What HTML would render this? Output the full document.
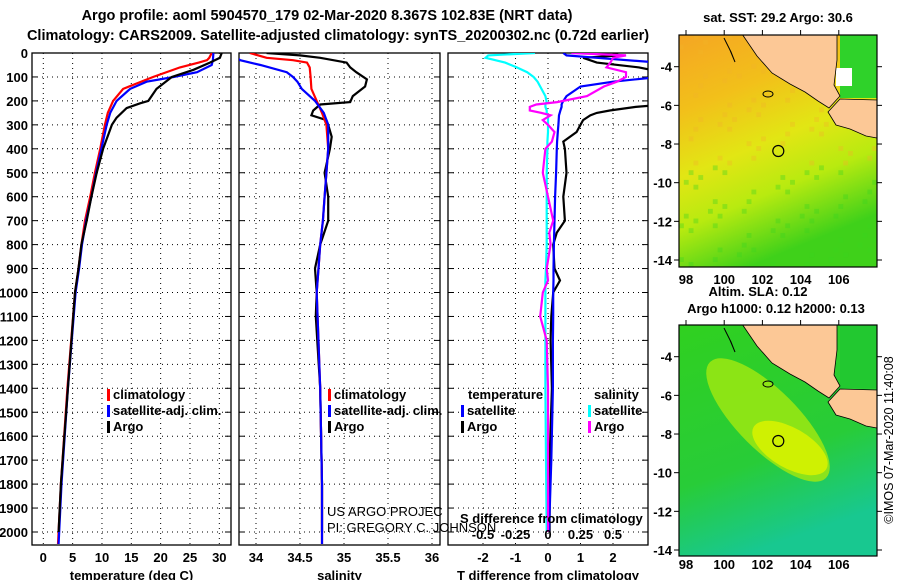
<!DOCTYPE html>
<html><head><meta charset="utf-8"><style>
body{margin:0;background:#fff;}
svg{display:block;font-family:"Liberation Sans",sans-serif;}
.t{font-weight:bold;font-size:13px;}
.tl{font-size:13px;}
</style></head><body>
<svg id="s" width="900" height="580" viewBox="0 0 900 580">
<text x="327" y="20" text-anchor="middle" class="t" style="font-size:14.5px">Argo profile: aoml 5904570_179 02-Mar-2020 8.367S 102.83E (NRT data)</text>
<text x="338" y="40" text-anchor="middle" class="t" style="font-size:14.5px">Climatology: CARS2009. Satellite-adjusted climatology: synTS_20200302.nc (0.72d earlier)</text>
<defs>
<clipPath id="c1"><rect x="32" y="53" width="199" height="492"/></clipPath>
<clipPath id="c2"><rect x="239" y="53" width="201" height="492"/></clipPath>
<clipPath id="c3"><rect x="448" y="53" width="200" height="492"/></clipPath>
<clipPath id="m1"><rect x="679" y="35" width="198" height="232"/></clipPath>
<clipPath id="m2"><rect x="679" y="325" width="198" height="231"/></clipPath>
<linearGradient id="sst" x1="0" y1="0" x2="0.35" y2="1">
<stop offset="0" stop-color="#f5a623"/><stop offset="0.3" stop-color="#f2c01a"/><stop offset="0.55" stop-color="#e2e614"/><stop offset="0.75" stop-color="#b8ea10"/><stop offset="1" stop-color="#3fd11a"/></linearGradient>
<linearGradient id="slabg" x1="0" y1="0" x2="0.3" y2="1"><stop offset="0" stop-color="#30d020"/><stop offset="0.65" stop-color="#28cc38"/><stop offset="1" stop-color="#18c890"/></linearGradient>
</defs>
<g id="panels"></g>
<g id="maps"></g>
<text transform="translate(893,440) rotate(-90)" text-anchor="middle" class="tl" style="font-size:12.5px">©IMOS 07-Mar-2020 11:40:08</text>
</svg>
<script>
const depthC = [0,20,30,40,60,100,150,200,250,300,400,500,600,700,800,900,1000,1400,1800,2050];
const tempClim = [28.7,28.3,27.9,26.5,23.3,18.7,13.6,11.9,11.0,10.5,9.7,8.8,8.0,7.1,6.5,6.0,5.4,4.1,3.0,2.5];
const depthS = [0,30,50,80,100,120,150,200,250,300,400,500,600,700,800,900,1000,1400,1800,2050];
const tempSat = [29.0,28.9,28.7,26.2,22.2,17.6,14.8,12.5,11.4,10.8,9.9,9.0,8.2,7.3,6.6,6.1,5.5,4.2,3.1,2.6];
const depthA = [0,20,40,70,100,150,200,210,230,270,300,400,500,600,700,800,900,1000,1400,1800,2000];
const tempArgo = [30.4,30.1,28.4,25.6,21.9,19.3,17.9,16.5,14.2,12.5,11.7,10.2,9.1,8.2,7.4,6.5,6.0,5.4,4.2,3.0,2.6];
const salClim = [33.93,34.12,34.42,34.58,34.61,34.62,34.63,34.69,34.75,34.80,34.82,34.80,34.78,34.76,34.73,34.71,34.69,34.73,34.75,34.75];
const salSat = [33.7,33.82,34.05,34.35,34.42,34.47,34.52,34.67,34.77,34.82,34.82,34.80,34.78,34.76,34.73,34.71,34.69,34.73,34.75,34.75];
const depthAS = [0,10,20,40,60,80,110,140,180,205,215,240,260,280,300,350,400,500,600,700,800,900,1000,1100,1400,1800,2000];
const salArgo = [34.12,34.5,34.73,35.03,35.07,35.14,35.26,35.24,35.10,35.07,34.73,34.65,34.63,34.80,34.82,34.86,34.84,34.78,34.82,34.82,34.73,34.67,34.69,34.68,34.73,34.75,34.75];
const depthD = [0,10,20,40,60,80,100,120,140,180,205,215,225,240,250,260,280,300,330,370,400,500,600,700,750,800,900,950,1000,1100,1200,1400,1700,2000];
const tDiffSat = [0.47,0.57,1.5,3.4,3.5,3.5,3.4,2.0,1.0,0.57,0.45,0.42,0.42,0.38,0.36,0.34,0.33,0.32,0.30,0.28,0.27,0.25,0.22,0.20,0.19,0.18,0.17,0.17,0.16,0.16,0.15,0.15,0.1,0.03];
const tDiffArgo = [2.0,2.2,1.08,1.5,2.8,3.5,3.6,3.6,3.6,3.6,3.6,3.6,2.7,1.9,1.5,1.3,1.08,1.0,0.88,0.47,0.52,0.57,0.47,0.52,0.27,0.16,0.2,0.37,0.16,0.1,0.08,0.12,0.05,0.05];
const sDiffSat = [-0.1,-0.46,-0.48,-0.33,-0.24,-0.16,-0.11,-0.08,-0.06,-0.02,-0.01,-0.02,-0.02,-0.01,-0.01,0,0,0,0,-0.005,-0.005,-0.01,-0.01,-0.01,-0.01,-0.01,-0.015,-0.02,-0.02,-0.02,-0.02,-0.02,-0.015,-0.01];
const sDiffArgo = [0.18,0.6,0.5,0.48,0.45,0.6,0.6,0.53,0.43,0.3,0.07,-0.09,-0.14,-0.14,-0.05,0.02,-0.04,0.0,0.05,0.03,-0.02,-0.04,0.0,0.04,0.01,0.02,-0.01,0.0,-0.04,-0.06,-0.01,0.0,0.0,0.0];
const depthTicks = [0,100,200,300,400,500,600,700,800,900,1000,1100,1200,1300,1400,1500,1600,1700,1800,1900,2000];
const tempTicks = [0,5,10,15,20,25,30];
const salTicks = [34,34.5,35,35.5,36];
const tdTicks = [-2,-1,0,1,2];
const sdTicks = [-0.5,-0.25,0,0.25,0.5];
const lonTicks = [98,100,102,104,106];
const latTicks = [-4,-6,-8,-10,-12,-14];

const NS='http://www.w3.org/2000/svg';
const yD = d => 53 + d*0.2395;
const xT = t => 43.3 + t*5.867;
const xS = s => 256 + (s-34)*88;
const xTD = v => 548 + v*32.5;
const xSD = v => 548 + v*130;
const P = document.getElementById('panels');
function mk(tag, attrs, parent){const e=document.createElementNS(NS,tag);for(const k in attrs)e.setAttribute(k,attrs[k]);(parent||P).appendChild(e);return e;}
function txt(x,y,s,anchor,cls,parent){const e=mk('text',{x:x,y:y,'text-anchor':anchor||'middle','class':cls||'t'},parent);e.textContent=s;return e;}

function panel(x0,w,clip,xs,ticks,tickFmt,title,name){
  const g=mk('g',{});
  
  
  ticks.forEach(t=>{const l=mk('line',{x1:xs(t),x2:xs(t),y1:53,y2:545,stroke:'#000','stroke-width':1,'stroke-dasharray':'1 4'},g);
    
    
    const tl=txt(xs(t),562,tickFmt(t),'middle','t',g);
    
    });
  depthTicks.forEach(d=>{const l=mk('line',{x1:x0,x2:x0+w,y1:yD(d),y2:yD(d),stroke:'#000','stroke-dasharray':'1 4'},g);
    
    
    mk('line',{x1:x0,x2:x0+6,y1:yD(d),y2:yD(d),stroke:'#000'},g);
    mk('line',{x1:x0+w-6,x2:x0+w,y1:yD(d),y2:yD(d),stroke:'#000'},g);});
  const r=mk('rect',{x:x0,y:53,width:w,height:492,fill:'none',stroke:'#000','stroke-width':1.3},g);
  
  
  const at=txt(x0+w/2,580,title,'middle','t',g);
  
  
  return g;
}
function line(depths,vals,xs,color,clip,name){
  const pts=depths.map((d,i)=>xs(vals[i]).toFixed(1)+','+yD(d).toFixed(1)).join(' ');
  const p=mk('polyline',{points:pts,fill:'none',stroke:color,'stroke-width':2.2,'clip-path':'url(#'+clip+')'});
  
  
  return p;
}
panel(32,199,'c1',xT,tempTicks,String,'temperature (deg C)','temperature');
panel(239,201,'c2',xS,salTicks,String,'salinity','salinity');
panel(448,200,'c3',xTD,tdTicks,String,'T difference from climatology','difference');
depthTicks.forEach(d=>{const e=txt(28,yD(d)+5,String(d),'end','t');
  
  });

line(depthC,tempClim,xT,'#f00','c1','temp-climatology-line');
line(depthS,tempSat,xT,'#00f','c1','temp-satellite-line');
line(depthA,tempArgo,xT,'#000','c1','temp-argo-line');
line(depthAS,salArgo,xS,'#000','c2','sal-argo-line');
line(depthC,salClim,xS,'#f00','c2','sal-climatology-line');
line(depthS,salSat,xS,'#00f','c2','sal-satellite-line');
line(depthD,tDiffArgo,xTD,'#000','c3','tdiff-argo-line');
line(depthD,tDiffSat,xTD,'#00f','c3','tdiff-satellite-line');
line(depthD,sDiffSat,xSD,'#0ff','c3','sdiff-satellite-line');
line(depthD,sDiffArgo,xSD,'#f0f','c3','sdiff-argo-line');

function legend(x,y,color,label,name){
  const r=mk('rect',{x:x,y:y-10,width:3,height:12,fill:color});
  
  
  const t=txt(x+6,y,label,'start','t');
  
  
}
legend(107,399,'#f00','climatology','legend-temp-climatology');
legend(107,415,'#00f','satellite-adj. clim.','legend-temp-satellite');
legend(107,431,'#000','Argo','legend-temp-argo');
legend(328,399,'#f00','climatology','legend-sal-climatology');
legend(328,415,'#00f','satellite-adj. clim.','legend-sal-satellite');
legend(328,431,'#000','Argo','legend-sal-argo');
{const t=txt(468,399,'temperature','start','t');
 const s=txt(594,399,'salinity','start','t');}
legend(461,415,'#00f','satellite','legend-tdiff-satellite');
legend(461,431,'#000','Argo','legend-tdiff-argo');
legend(588,415,'#0ff','satellite','legend-sdiff-satellite');
legend(588,431,'#f0f','Argo','legend-sdiff-argo');
{const a=txt(327,516,'US ARGO PROJEC','start','tl');
 const b=txt(327,532,'PI: GREGORY C. JOHNSON','start','tl');
 const c=txt(460,523,'S difference from climatology','start','t');
 sdTicks.forEach(v=>{const e=txt(xSD(v),539,String(v),'middle','t');});}

const M=document.getElementById('maps');
function map(off,bgFill,name){
  const g=mk('g',{},M);
  
  
  mk('rect',{x:679,y:35+off,width:198,height:232,fill:bgFill,'clip-path':'url(#'+(off?'m2':'m1')+')'},g);
  return g;
}
const lonX = l => 686 + (l-98)*19.1;
const latY = (la,off) => 66.7 + off + (-4-la)*19.33;
function mapDecor(g,off){
  const sum='742.7,35 837,35 837,60 834,85 840,96 829,108 818,101 805,92 790,84 772,73 757,56';
  const jav='840,99 877,100 877,138 866,136 850,129 836,125 828,112';
  const tr=s=>s.split(' ').map(p=>{const [a,b]=p.split(',');return a+','+(+b+off);}).join(' ');
  const s1=mk('polygon',{points:tr(sum),fill:'#fcc896',stroke:'#000','stroke-width':0.8},g);
  
  
  const j1=mk('polygon',{points:tr(jav),fill:'#fcc896',stroke:'#000','stroke-width':0.8},g);
  
  
  mk('polyline',{points:tr('724,38 730,50 735,62 731,52 725,40'),fill:'none',stroke:'#000','stroke-width':1},g);
  mk('ellipse',{cx:768,cy:94+off,rx:5,ry:3,fill:'none',stroke:'#000'},g);
  const c=mk('circle',{cx:778.3,cy:151+off,r:5.5,fill:'none',stroke:'#000','stroke-width':1.2},g);
  
  
  const f=mk('rect',{x:679,y:35+off,width:198,height:232-(off?1:0),fill:'none',stroke:'#000','stroke-width':1.2},g);
  
  
  lonTicks.forEach(l=>{mk('line',{x1:lonX(l),x2:lonX(l),y1:30+off,y2:35+off,stroke:'#000'},g);
    const t=txt(lonX(l),284+off-(off?5:0),String(l),'middle','t',g);
    
    });
  latTicks.forEach(la=>{mk('line',{x1:674,x2:679,y1:latY(la,off),y2:latY(la,off),stroke:'#000'},g);
    mk('line',{x1:877,x2:882,y1:latY(la,off),y2:latY(la,off),stroke:'#000'},g);
    const t=txt(672,latY(la,off)+5,String(la),'end','t',g);
    
    });
}
const g1=map(0,'url(#sst)','sst-map');
for(let i=0;i<41;i++)for(let j=0;j<48;j++){
  const v=Math.sin(i*1.7+j*2.3)*Math.cos(i*0.9-j*1.3);
  if(v>0.8){mk('rect',{x:679+i*4.83,y:35+j*4.83,width:4.83,height:4.83,fill:(j>26)?'#38d420':'#f0b428',opacity:0.35,'clip-path':'url(#m1)'},g1);}
}
mk('rect',{x:840,y:35,width:37,height:63,fill:'#2fd22a'},g1);
mk('rect',{x:836,y:68,width:16,height:18,fill:'#fff'},g1);
mapDecor(g1,0);
{const t=txt(778,22,'sat. SST: 29.2 Argo: 30.6','middle','t');}
const g2=map(290,'url(#slabg)','sla-map');
mk('ellipse',{cx:768,cy:420,rx:82,ry:30,fill:'#9ee812',opacity:0.85,transform:'rotate(45 768 420)','clip-path':'url(#m2)'},g2);
mk('ellipse',{cx:790,cy:448,rx:42,ry:20,fill:'#d6f200',opacity:0.9,transform:'rotate(30 790 448)'},g2);
mk('rect',{x:840,y:325,width:37,height:63,fill:'#22c830'},g2);
mapDecor(g2,290);
{const t=txt(758,296,'Altim. SLA: 0.12','middle','t');
 const u=txt(776,313,'Argo h1000: 0.12 h2000: 0.13','middle','t');}
</script>
</body></html>
